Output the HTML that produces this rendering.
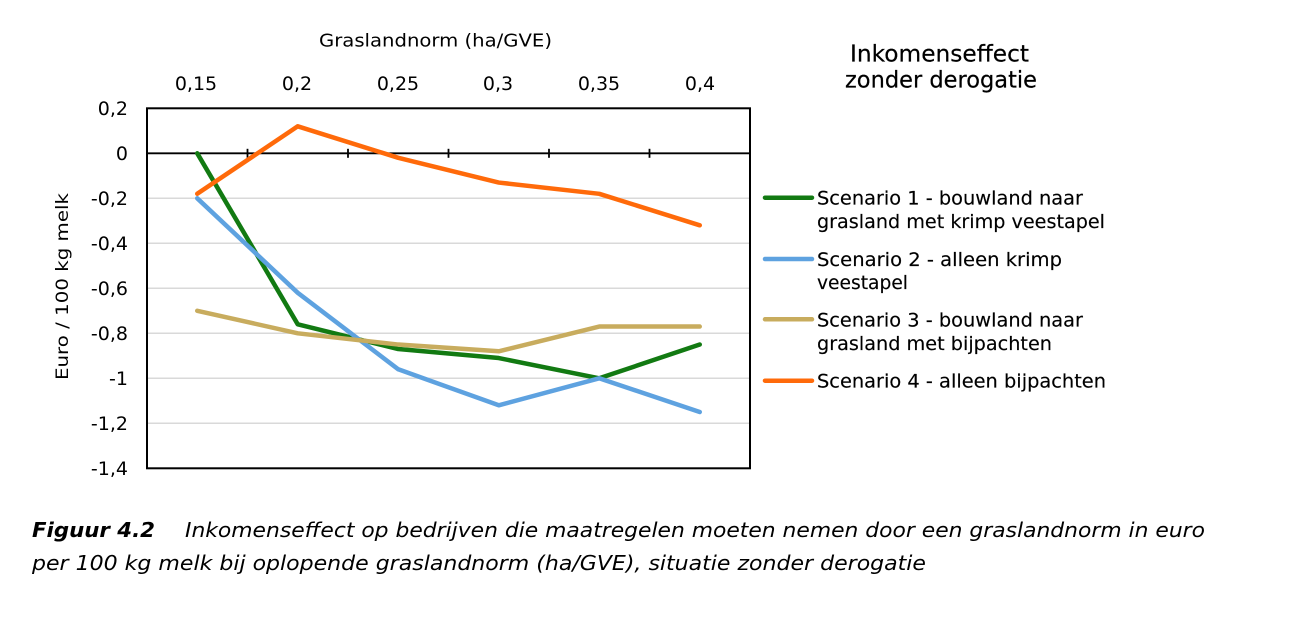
<!DOCTYPE html>
<html>
<head>
<meta charset="utf-8">
<style>
  html,body{margin:0;padding:0;background:#fff;}
  svg{display:block;}
  text{font-family:"DejaVu Sans","Liberation Sans",sans-serif;fill:#000;}
</style>
</head>
<body>
<svg width="1299" height="617" viewBox="0 0 1299 617" xmlns="http://www.w3.org/2000/svg">
  <!-- gridlines -->
  <g stroke="#d9d9d9" stroke-width="1.5">
    <line x1="147" y1="198.3" x2="750" y2="198.3"/>
    <line x1="147" y1="243.3" x2="750" y2="243.3"/>
    <line x1="147" y1="288.3" x2="750" y2="288.3"/>
    <line x1="147" y1="333.3" x2="750" y2="333.3"/>
    <line x1="147" y1="378.3" x2="750" y2="378.3"/>
    <line x1="147" y1="423.3" x2="750" y2="423.3"/>
  </g>
  <!-- plot border -->
  <rect x="147" y="108.3" width="603" height="360" fill="none" stroke="#000" stroke-width="2"/>
  <!-- zero line -->
  <line x1="147" y1="153.3" x2="750" y2="153.3" stroke="#000" stroke-width="1.8"/>
  <g stroke="#000" stroke-width="1.8">
    <line x1="247.5" y1="148.8" x2="247.5" y2="157.8"/>
    <line x1="348" y1="148.8" x2="348" y2="157.8"/>
    <line x1="448.5" y1="148.8" x2="448.5" y2="157.8"/>
    <line x1="549" y1="148.8" x2="549" y2="157.8"/>
    <line x1="649.5" y1="148.8" x2="649.5" y2="157.8"/>
  </g>

  <!-- series -->
  <g fill="none" stroke-width="4.5" stroke-linejoin="round" stroke-linecap="round">
    <polyline stroke="#127a12" points="197.25,153.3 297.75,324.3 398.25,349.05 498.75,358.05 599.25,378.3 699.75,344.55"/>
    <polyline stroke="#5ea2e0" points="197.25,198.3 297.75,292.8 398.25,369.3 498.75,405.3 599.25,378.3 699.75,412.05"/>
    <polyline stroke="#c8ac5e" points="197.25,310.8 297.75,333.3 398.25,344.55 498.75,351.3 599.25,326.55 699.75,326.55"/>
    <polyline stroke="#ff6a0a" points="197.25,193.8 297.75,126.3 398.25,157.8 498.75,182.55 599.25,193.8 699.75,225.3"/>
  </g>

  <!-- y tick labels -->
  <g font-size="19" text-anchor="end">
    <text x="128" y="115">0,2</text>
    <text x="128" y="160">0</text>
    <text x="128" y="205">-0,2</text>
    <text x="128" y="250">-0,4</text>
    <text x="128" y="295">-0,6</text>
    <text x="128" y="340">-0,8</text>
    <text x="128" y="385">-1</text>
    <text x="128" y="430">-1,2</text>
    <text x="128" y="475">-1,4</text>
  </g>

  <!-- x tick labels -->
  <g font-size="19" text-anchor="middle">
    <text x="196" y="90">0,15</text>
    <text x="297" y="90">0,2</text>
    <text x="398" y="90">0,25</text>
    <text x="498" y="90">0,3</text>
    <text x="599" y="90">0,35</text>
    <text x="700" y="90">0,4</text>
  </g>

  <!-- axis titles -->
  <text x="319" y="46.7" font-size="18" textLength="233" lengthAdjust="spacingAndGlyphs">Graslandnorm (ha/GVE)</text>
  <text transform="translate(68,286.5) rotate(-90)" x="0" y="0" font-size="17" text-anchor="middle" textLength="187" lengthAdjust="spacingAndGlyphs">Euro / 100 kg melk</text>

  <!-- chart title -->
  <text x="850" y="61.5" font-size="23" textLength="179" lengthAdjust="spacingAndGlyphs" stroke="#000" stroke-width="0.2">Inkomenseffect</text>
  <text x="845" y="87.5" font-size="23" textLength="192" lengthAdjust="spacingAndGlyphs" stroke="#000" stroke-width="0.2">zonder derogatie</text>

  <!-- legend -->
  <g stroke-width="4.5" stroke-linecap="round">
    <line x1="765" y1="197.7" x2="812" y2="197.7" stroke="#127a12"/>
    <line x1="765" y1="259" x2="812" y2="259" stroke="#5ea2e0"/>
    <line x1="765" y1="319.3" x2="812" y2="319.3" stroke="#c8ac5e"/>
    <line x1="765" y1="380.7" x2="812" y2="380.7" stroke="#ff6a0a"/>
  </g>
  <g font-size="19" stroke="#000" stroke-width="0.15">
    <text x="817" y="204.5" textLength="266" lengthAdjust="spacingAndGlyphs">Scenario 1 - bouwland naar</text>
    <text x="817" y="228" textLength="288" lengthAdjust="spacingAndGlyphs">grasland met krimp veestapel</text>
    <text x="817" y="266" textLength="245" lengthAdjust="spacingAndGlyphs">Scenario 2 - alleen krimp</text>
    <text x="817" y="289" textLength="91" lengthAdjust="spacingAndGlyphs">veestapel</text>
    <text x="817" y="326.5" textLength="266" lengthAdjust="spacingAndGlyphs">Scenario 3 - bouwland naar</text>
    <text x="817" y="350" textLength="235" lengthAdjust="spacingAndGlyphs">grasland met bijpachten</text>
    <text x="817" y="387.5" textLength="289" lengthAdjust="spacingAndGlyphs">Scenario 4 - alleen bijpachten</text>
  </g>

  <!-- caption -->
  <text x="32" y="537" font-size="20" font-weight="bold" font-style="italic" textLength="123" lengthAdjust="spacingAndGlyphs">Figuur 4.2</text>
  <text x="185" y="537" font-size="20" font-style="italic" textLength="1020" lengthAdjust="spacingAndGlyphs">Inkomenseffect op bedrijven die maatregelen moeten nemen door een graslandnorm in euro</text>
  <text x="32" y="570" font-size="20" font-style="italic" textLength="894" lengthAdjust="spacingAndGlyphs">per 100 kg melk bij oplopende graslandnorm (ha/GVE), situatie zonder derogatie</text>
</svg>
</body>
</html>
